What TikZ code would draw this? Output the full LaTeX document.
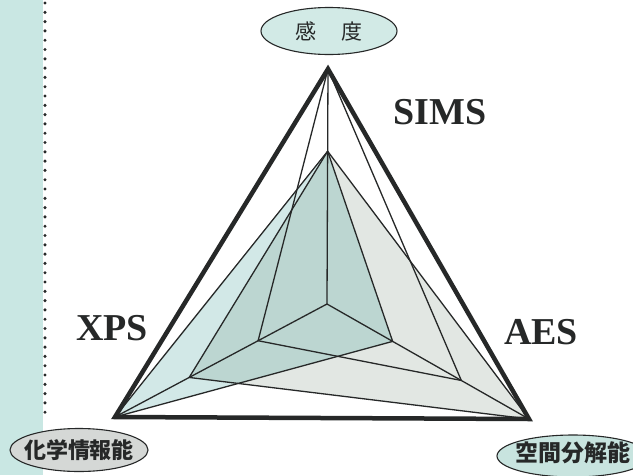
\documentclass[tikz,border=0pt]{standalone}
\usepackage{fontspec}
\newfontfamily\cjk{Noto Sans CJK JP}
\newfontfamily\lblfont{Liberation Serif}
\usetikzlibrary{shapes.geometric,calc}
\definecolor{linecol}{RGB}{38,40,40}
\definecolor{stripcol}{RGB}{201,231,227}
\definecolor{aesfill}{RGB}{226,231,227}
\definecolor{xpscol}{RGB}{54,154,148}
\definecolor{tealoval}{RGB}{210,234,230}
\definecolor{greyoval}{RGB}{213,216,214}
\definecolor{tealoval2}{RGB}{200,228,223}
\begin{document}
\begin{tikzpicture}[x=1pt,y=-1pt,
  thinline/.style={line width=1.3pt, draw=linecol, line join=round},
  thickline/.style={line width=4.5pt, draw=linecol, line join=miter, miter limit=20},
  lbl/.style={font=\lblfont\bfseries\fontsize{38}{38}\selectfont, text=linecol, inner sep=0pt},
  oval/.style={ellipse, draw=linecol, line width=1.1pt, inner sep=0pt},
  ovaltext/.style={font=\cjk\bfseries\fontsize{22}{22}\selectfont, text=linecol},
]
\useasboundingbox (0,0) rectangle (633,475);
\clip (0,0) rectangle (633,475);
\fill[white] (0,0) rectangle (633,475);
\fill[stripcol] (0,0) rectangle (43,475);
\draw[linecol, line width=3.4pt, line cap=round, dash pattern=on 0pt off 9.3pt] (45,3) -- (45,418);

% radar geometry
\coordinate (C) at (327,304);
\coordinate (A) at (328,69);
\coordinate (L) at (115,417);
\coordinate (R) at (529,419);
\coordinate (Q1) at ($(C)!0.65!(A)$);
\coordinate (P2) at ($(C)!0.325!(L)$);
\coordinate (P4) at ($(C)!0.65!(L)$);
\coordinate (P3) at ($(C)!0.325!(R)$);
\coordinate (P5) at ($(C)!0.665!(R)$);

% fills
\fill[aesfill] (Q1) -- (P4) -- (R) -- cycle;
\fill[xpscol, fill opacity=0.22] (Q1) -- (L) -- (P3) -- cycle;

% axes
\draw[thinline] (C) -- (A);
\draw[thinline] (C) -- (L);
\draw[thinline] (C) -- (R);
% technique triangles
\draw[thinline] (A) -- (P2) -- (P5) -- cycle;
\draw[thinline] (Q1) -- (P4) -- (R) -- cycle;
\draw[thinline] (Q1) -- (L) -- (P3) -- cycle;
% outer triangle
\draw[thickline] (A) -- (L) -- (R) -- cycle;

% labels
\node[lbl] (sims) at (440,112) {SIMS};
\node[lbl] (xps) at (112,328) {XPS};
\node[lbl] (aes) at (541,332) {AES};

\node[oval, fill=tealoval, minimum width=136pt, minimum height=47pt] (sens) at (329,31) {};
\node[font=\cjk\fontsize{21}{21}\selectfont, text=linecol] (senst) at (sens.center) {感\hspace{26pt}度};
\node[oval, fill=greyoval, minimum width=138pt, minimum height=43pt] (chem) at (79,450) {};
\node[ovaltext] (chemt) at (chem.center) {化学情報能};
\node[oval, fill=tealoval2, minimum width=152pt, minimum height=42pt] (spat) at (573,456) {};
\node[ovaltext, font=\cjk\bfseries\fontsize{23}{23}\selectfont] (spatt) at (573,453) {空間分解能};
\end{tikzpicture}
\end{document}
